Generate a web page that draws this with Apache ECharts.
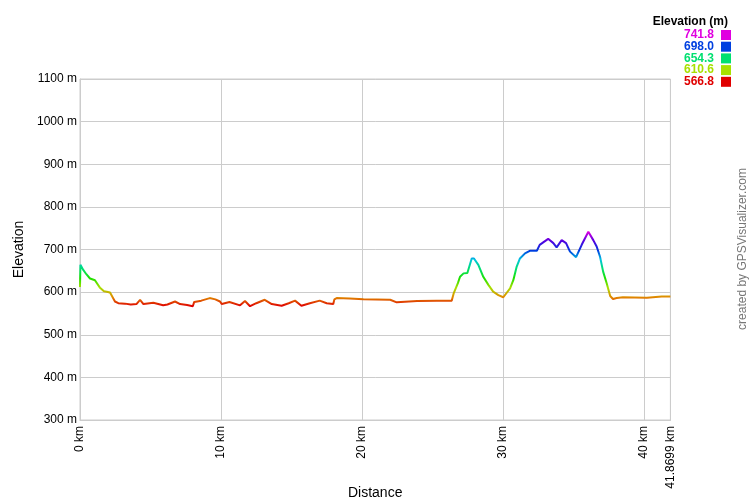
<!DOCTYPE html>
<html>
<head>
<meta charset="utf-8">
<script src="https://cdn.jsdelivr.net/npm/echarts@6/dist/echarts.min.js"></script>
<style>html,body{margin:0;padding:0;background:#fff;}#c{width:750px;height:500px;}</style>
</head>
<body>
<div id="c"></div>
<script>
// Distance (km) and elevation (m)
var distanceKm = [0.00,0.03,0.23,0.45,0.71,1.06,1.42,1.70,1.89,2.13,2.48,2.72,3.2,3.6,4.0,4.26,4.5,5.2,5.9,6.2,6.74,7.1,7.6,8.0,8.1,8.6,9.2,9.6,9.93,10.05,10.6,11.35,11.7,12.06,12.5,13.1,13.6,14.3,14.8,15.25,15.7,16.3,17.0,17.5,17.96,18.04,18.2,19.15,20.1,22.0,22.46,23.9,25.3,26.36,26.5,26.6,26.8,26.95,27.2,27.47,27.78,27.94,28.25,28.6,28.96,29.3,29.67,30.02,30.5,30.73,30.97,31.2,31.56,31.9,32.4,32.6,33.2,33.57,33.8,34.16,34.47,34.75,35.18,35.58,36.05,36.4,36.64,36.88,37.1,37.35,37.6,37.8,38.06,38.5,40.2,41.25,41.8699];
var elevationM = [612,664,652,642,632,628,610,602,601,599,578,574,573,571,572,582,572,575,569,571,578,572,570,567,577,580,586,583,578,572,577,569,579,567,574,582,572,568,574,580,568,574,580,574,572,583,586,585,583,582,576,579,580,580,597,601,621,636,644,645,679,679,664,636,617,601,593,588,609,628,660,679,691,697,697,711,725,715,705,722,715,695,682,711,741.8,722,707,683,648,621,591,584,586,588,587,590,590];
var legendValues = ['741.8','698.0','654.3','610.6','566.8'];
var legendColors = ['#e000e0','#0040e0','#00e070','#a8e000','#e00000'];
var xTickInterval = 10;
var xMaxKm = 41.8699;
var yMin = 300, yMax = 1100, yInterval = 100;
var elevMin = 566.8, elevMax = 741.8;

var data = distanceKm.map(function (d, i) { return [d, elevationM[i]]; });

var graphics = [
  { type: 'text', x: 728, y: 21.5, style: { text: 'Elevation (m)', font: 'bold 12px "Liberation Sans", Arial', fill: '#000', align: 'right', verticalAlign: 'middle' } }
];
legendValues.forEach(function (v, i) {
  var cy = 35 + i * 11.7;
  graphics.push({ type: 'text', x: 714, y: cy, style: { text: v, font: 'bold 12px "Liberation Sans", Arial', fill: legendColors[i], align: 'right', verticalAlign: 'middle' } });
  graphics.push({ type: 'rect', shape: { x: 721, y: cy - 5, width: 10, height: 10 }, style: { fill: legendColors[i] } });
});
graphics.push({ type: 'text', x: 743, y: 249, rotation: Math.PI / 2, style: { text: 'created by GPSVisualizer.com', font: '12px "Liberation Sans", Arial', fill: '#777', align: 'center', verticalAlign: 'middle' } });

var chart = echarts.init(document.getElementById('c'), null, { renderer: 'canvas' });
chart.setOption({
  animation: false,
  backgroundColor: '#fff',
  grid: { left: 80, right: 79.6, top: 79, bottom: 80, containLabel: false, outerBoundsMode: 'none', show: true, borderColor: '#cccccc', borderWidth: 1 },
  xAxis: {
    type: 'value', min: 0, max: xMaxKm, interval: xTickInterval,
    name: 'Distance', nameLocation: 'middle', nameGap: 73, nameMoveOverlap: false,
    nameTextStyle: { fontFamily: '"Liberation Sans", Arial', fontSize: 14, color: '#000', verticalAlign: 'middle' },
    axisLine: { lineStyle: { color: '#cccccc' } },
    axisTick: { show: false },
    splitLine: { show: true, lineStyle: { color: '#cccccc' } },
    axisLabel: { rotate: 90, formatter: function (v) { return v + ' km'; }, fontFamily: '"Liberation Sans", Arial', fontSize: 12, color: '#000', margin: 6, showMaxLabel: true, showMinLabel: true }
  },
  yAxis: {
    type: 'value', min: yMin, max: yMax, interval: yInterval,
    name: 'Elevation', nameLocation: 'middle', nameGap: 61, nameMoveOverlap: false,
    nameTextStyle: { fontFamily: '"Liberation Sans", Arial', fontSize: 14, color: '#000', verticalAlign: 'middle' },
    axisLine: { show: true, lineStyle: { color: '#cccccc' } },
    axisTick: { show: false },
    splitLine: { show: true, lineStyle: { color: '#cccccc' } },
    axisLabel: { formatter: function (v) { return v + ' m'; }, fontFamily: '"Liberation Sans", Arial', fontSize: 12, color: '#000', margin: 3 }
  },
  visualMap: {
    show: false, type: 'continuous', min: elevMin, max: elevMax, dimension: 1, seriesIndex: 0,
    inRange: { color: ['#e00000', '#e08c00', '#a8e000', '#1ce000', '#00e070', '#00c4e0', '#0038e0', '#5400e0', '#e000e0'] }
  },
  series: [{
    type: 'line', data: data, showSymbol: false, smooth: false,
    lineStyle: { width: 2 }
  }],
  graphic: graphics
});
</script>
</body>
</html>
